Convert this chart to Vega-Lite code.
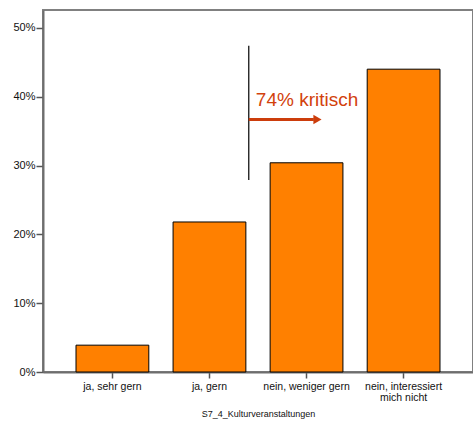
{
  "$schema": "https://vega.github.io/schema/vega-lite/v6.json",
  "autosize": {"type": "none"},
  "padding": {"left": 43, "top": 10, "right": 0, "bottom": 51},
  "width": 430,
  "height": 362,
  "background": "white",
  "config": {
    "font": "Liberation Sans",
    "view": {"stroke": "#808080", "strokeWidth": 2},
    "axis": {"grid": false, "domainColor": "#6e6e6e", "domainWidth": 2, "tickColor": "#555555", "tickWidth": 1.5, "labelColor": "#111111", "labelFont": "Liberation Sans", "titleFont": "Liberation Sans"}
  },
  "datasets": {
    "bars": [
      {"cat": "ja, sehr gern", "v": 0.039},
      {"cat": "ja, gern", "v": 0.218},
      {"cat": "nein, weniger gern", "v": 0.304},
      {"cat": "nein, interessiert mich nicht", "v": 0.44}
    ],
    "vline": [{"c": "ja, gern", "y1": 0.474, "y2": 0.279}],
    "arrow": [{"c1": "ja, gern", "c2": "nein, weniger gern", "y": 0.367}],
    "label": [{"c": "ja, gern", "y": 0.3866, "t": "74% kritisch"}]
  },
  "layer": [
    {
      "data": {"name": "bars"},
      "mark": {"type": "bar", "color": "#ff8000", "stroke": "#000000", "strokeWidth": 1},
      "encoding": {
        "x": {
          "field": "cat", "type": "nominal", "sort": null,
          "scale": {"domain": ["ja, sehr gern", "ja, gern", "nein, weniger gern", "nein, interessiert mich nicht"], "paddingInner": 0.25, "paddingOuter": 0.34},
          "axis": {
            "labelAngle": 0, "labelFontSize": 10.5, "labelPadding": 3, "tickSize": 6,
            "labelLineHeight": 11,
            "labelExpr": "datum.label == 'nein, interessiert mich nicht' ? ['nein, interessiert', 'mich nicht'] : datum.label",
            "title": "S7_4_Kulturveranstaltungen", "titleFontSize": 9, "titleFontWeight": "normal", "titlePadding": 7, "titleColor": "#111111"
          }
        },
        "y": {
          "field": "v", "type": "quantitative",
          "scale": {"domain": [0, 0.526], "nice": false, "zero": true},
          "axis": {"values": [0, 0.1, 0.2, 0.3, 0.4, 0.5], "format": ".0%", "title": null, "labelFontSize": 11, "tickSize": 7, "labelPadding": 1}
        }
      }
    },
    {
      "data": {"name": "vline"},
      "mark": {"type": "rule", "color": "#000000", "strokeWidth": 1.2},
      "encoding": {
        "x": {"field": "c", "type": "nominal", "bandPosition": 1.04},
        "y": {"field": "y1", "type": "quantitative"},
        "y2": {"field": "y2"}
      }
    },
    {
      "data": {"name": "arrow"},
      "mark": {"type": "rule", "color": "#cc3d0c", "strokeWidth": 3},
      "encoding": {
        "x": {"field": "c1", "type": "nominal", "bandPosition": 1.04},
        "x2": {"field": "c2", "bandPosition": 0.6},
        "y": {"field": "y", "type": "quantitative"}
      }
    },
    {
      "data": {"name": "arrow"},
      "mark": {"type": "point", "shape": "triangle-right", "filled": true, "color": "#cc3d0c", "opacity": 1, "size": 90},
      "encoding": {
        "x": {"field": "c2", "type": "nominal", "bandPosition": 0.65},
        "y": {"field": "y", "type": "quantitative"}
      }
    },
    {
      "data": {"name": "label"},
      "mark": {"type": "text", "align": "left", "baseline": "alphabetic", "fontSize": 19, "color": "#d2410c", "font": "Liberation Sans"},
      "encoding": {
        "x": {"field": "c", "type": "nominal", "bandPosition": 1.137},
        "y": {"field": "y", "type": "quantitative"},
        "text": {"field": "t"}
      }
    }
  ]
}
